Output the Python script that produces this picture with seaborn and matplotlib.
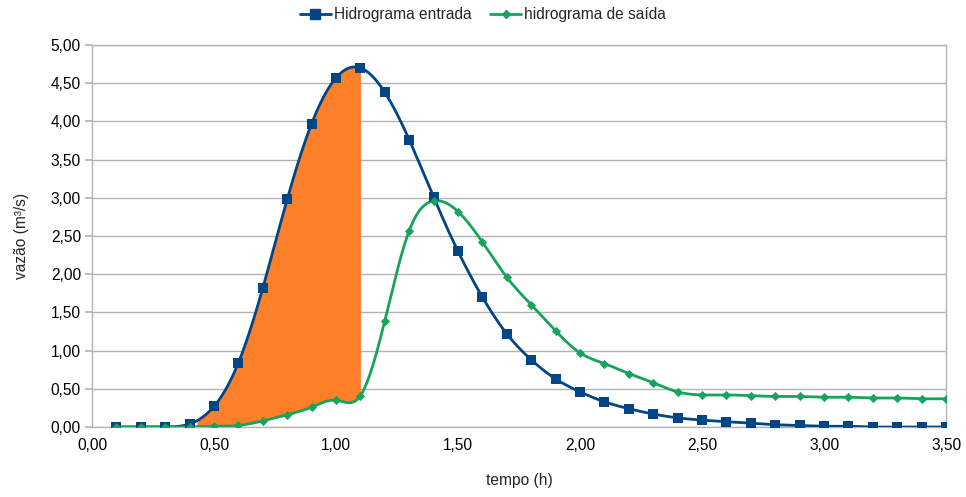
import numpy as np
import pandas as pd
import matplotlib
matplotlib.use("Agg")
import matplotlib.pyplot as plt
from matplotlib.ticker import FuncFormatter, MultipleLocator
from matplotlib.lines import Line2D
import seaborn as sns

# ---- data ----
tempo = [0.1, 0.2, 0.3, 0.4, 0.5, 0.6, 0.7, 0.8, 0.9, 1.0, 1.1, 1.2, 1.3, 1.4, 1.5,
         1.6, 1.7, 1.8, 1.9, 2.0, 2.1, 2.2, 2.3, 2.4, 2.5, 2.6, 2.7, 2.8, 2.9, 3.0,
         3.1, 3.2, 3.3, 3.4, 3.5]
entrada = [0.00, 0.00, 0.00, 0.04, 0.27, 0.84, 1.82, 2.98, 3.97, 4.57, 4.70, 4.38,
           3.76, 3.01, 2.30, 1.70, 1.22, 0.88, 0.63, 0.46, 0.33, 0.24, 0.17, 0.12,
           0.09, 0.07, 0.05, 0.03, 0.02, 0.01, 0.01, 0.00, 0.00, 0.00, 0.00]
saida = [0.00, 0.00, 0.00, 0.00, 0.01, 0.02, 0.08, 0.16, 0.26, 0.35, 0.41, 1.39,
         2.57, 2.96, 2.82, 2.42, 1.96, 1.60, 1.26, 0.97, 0.83, 0.70, 0.58, 0.46,
         0.42, 0.42, 0.41, 0.40, 0.40, 0.39, 0.39, 0.38, 0.38, 0.37, 0.37]
fill_start, fill_end = 0.43, 1.1
label_entrada = "Hidrograma entrada"
label_saida = "hidrograma de saída"

C_IN = "#004586"
C_OUT = "#16a35a"
C_FILL = "#fd7f2a"


def natural_spline(x, y, xs):
    x = np.asarray(x, float); y = np.asarray(y, float)
    n = len(x)
    h = np.diff(x)
    A = np.zeros((n, n)); b = np.zeros(n)
    A[0, 0] = 1; A[-1, -1] = 1
    for i in range(1, n - 1):
        A[i, i - 1] = h[i - 1]
        A[i, i] = 2 * (h[i - 1] + h[i])
        A[i, i + 1] = h[i]
        b[i] = 3 * ((y[i + 1] - y[i]) / h[i] - (y[i] - y[i - 1]) / h[i - 1])
    c = np.linalg.solve(A, b)
    out = np.empty_like(xs)
    idx = np.clip(np.searchsorted(x, xs) - 1, 0, n - 2)
    for k, (xi, i) in enumerate(zip(xs, idx)):
        bb = (y[i + 1] - y[i]) / h[i] - h[i] * (2 * c[i] + c[i + 1]) / 3
        d = (c[i + 1] - c[i]) / (3 * h[i])
        t = xi - x[i]
        out[k] = y[i] + bb * t + c[i] * t ** 2 + d * t ** 3
    return out


xs = np.linspace(tempo[0], tempo[-1], 1200)
ys_in = natural_spline(tempo, entrada, xs)
ys_out = natural_spline(tempo, saida, xs)

dense = pd.DataFrame({"t": np.concatenate([xs, xs]),
                      "q": np.concatenate([ys_in, ys_out]),
                      "s": [label_entrada] * len(xs) + [label_saida] * len(xs)})
pts = pd.DataFrame({"t": tempo * 2, "q": entrada + saida,
                    "s": [label_entrada] * len(tempo) + [label_saida] * len(tempo)})

sns.set_theme(style="white")
plt.rcParams["font.family"] = ["Liberation Sans", "DejaVu Sans"]

FS = 11.2

fig = plt.figure(figsize=(9.66, 4.97), dpi=100)
ax = fig.add_axes([92 / 966, 1 - 427 / 497, (946 - 92) / 966, (427 - 45) / 497])

# shaded area
xf = np.linspace(fill_start, fill_end, 400)
ax.fill_between(xf, natural_spline(tempo, saida, xf), natural_spline(tempo, entrada, xf),
                color=C_FILL, lw=0, zorder=2)

sns.lineplot(data=dense, x="t", y="q", hue="s", palette={label_entrada: C_IN, label_saida: C_OUT},
             lw=2, legend=False, ax=ax, zorder=3, estimator=None, sort=False)
sns.scatterplot(data=pts[pts.s == label_entrada], x="t", y="q", marker="s", s=60,
                color=C_IN, edgecolor=C_IN, linewidth=0, ax=ax, zorder=4, legend=False)
sns.scatterplot(data=pts[pts.s == label_saida], x="t", y="q", marker="D", s=22,
                color=C_OUT, edgecolor=C_OUT, linewidth=0, ax=ax, zorder=4, legend=False)

ax.set_xlim(0, 3.5)
ax.set_ylim(0, 5)
ax.xaxis.set_major_locator(MultipleLocator(0.5))
ax.yaxis.set_major_locator(MultipleLocator(0.5))
fmt = FuncFormatter(lambda v, p: f"{v:.2f}".replace(".", ","))
ax.xaxis.set_major_formatter(fmt)
ax.yaxis.set_major_formatter(fmt)
ax.grid(axis="y", color="#b3b3b3", lw=1)
ax.grid(axis="x", visible=False)
ax.set_axisbelow(True)
for sp in ax.spines.values():
    sp.set_color("#b3b3b3")
    sp.set_linewidth(1)
ax.tick_params(axis="y", which="major", left=True, length=5, color="#b3b3b3",
               labelsize=FS, pad=3, labelcolor="black")
ax.tick_params(axis="x", which="major", bottom=False, labelsize=FS, pad=2, labelcolor="black")
ax.set_xlabel("tempo (h)", fontsize=FS, labelpad=14)
ax.set_ylabel("vazão (m³/s)", fontsize=FS, labelpad=16)

handles = [Line2D([], [], color=C_IN, lw=2, marker="s", markersize=7),
           Line2D([], [], color=C_OUT, lw=2, marker="D", markersize=4.5)]
fig.legend(handles, [label_entrada, label_saida], loc="center", bbox_to_anchor=(0.5, 1 - 15 / 497),
           ncol=2, frameon=False, fontsize=FS, handlelength=2.0, handletextpad=0.2,
           columnspacing=1.2)

fig.savefig("out.png", dpi=100)
